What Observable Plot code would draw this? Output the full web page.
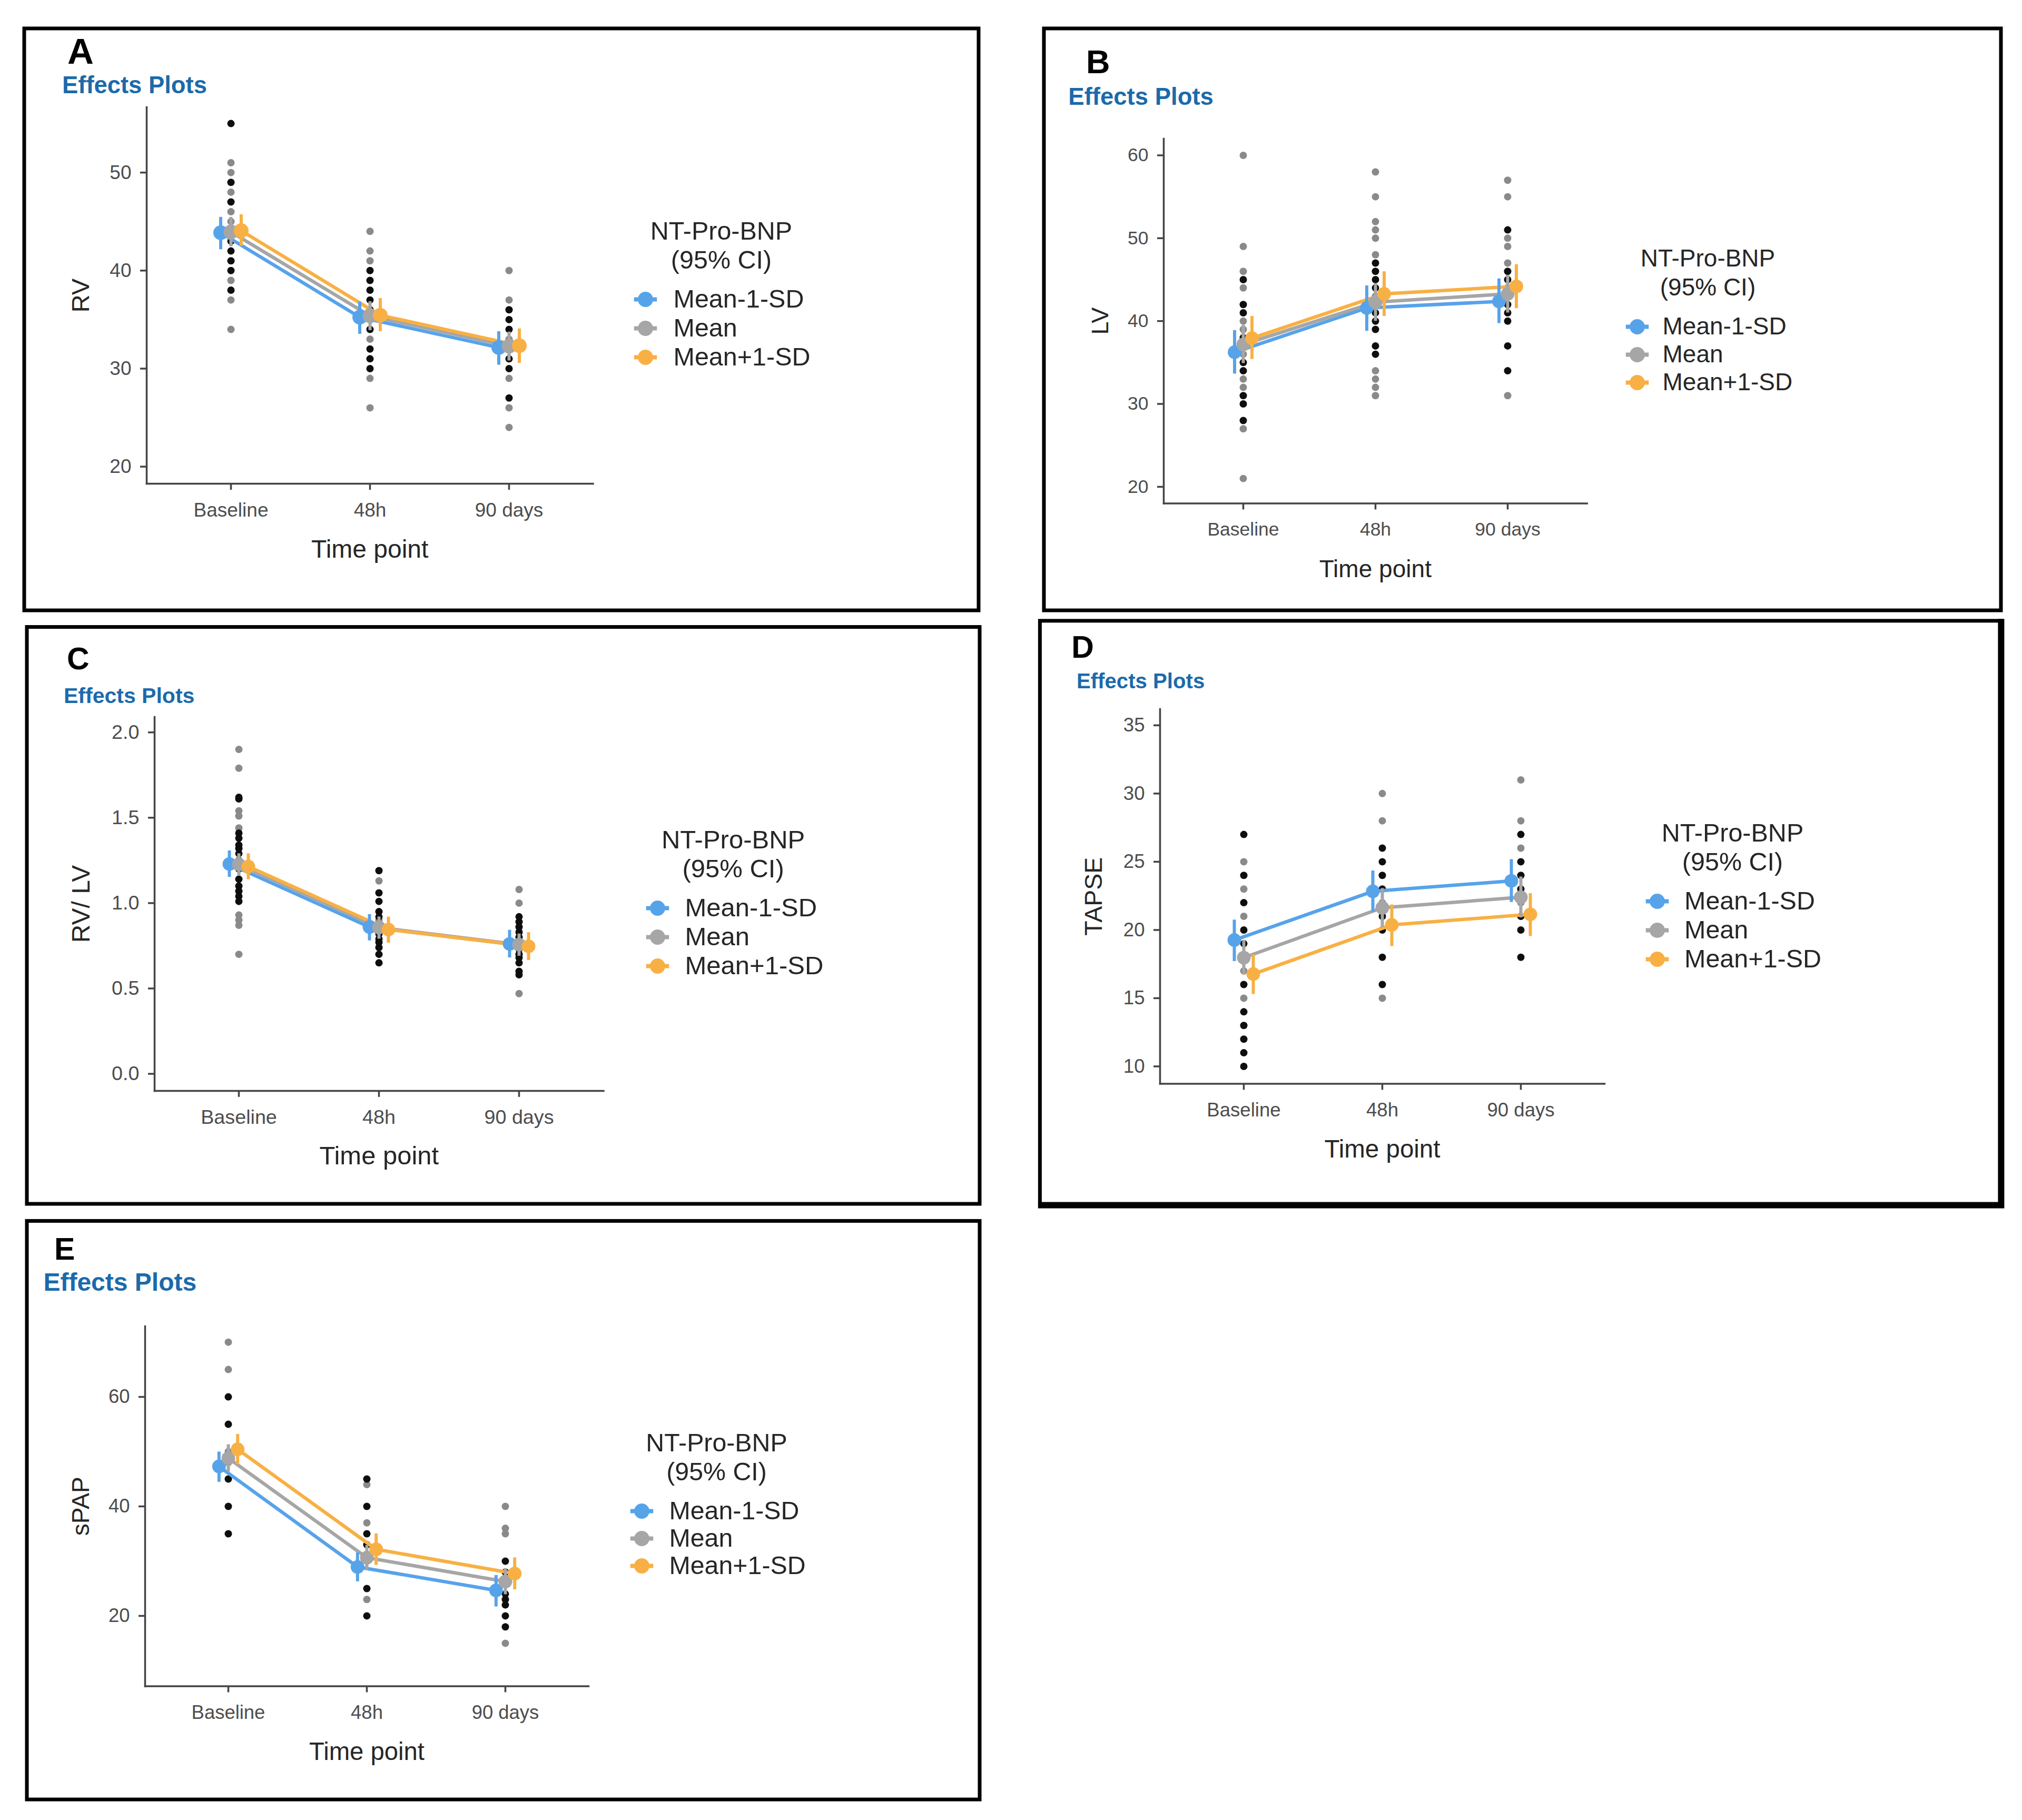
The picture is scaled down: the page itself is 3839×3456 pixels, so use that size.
<!DOCTYPE html>
<html><head><meta charset="utf-8">
<script src="https://cdn.jsdelivr.net/npm/d3@7"></script>
<script src="https://cdn.jsdelivr.net/npm/@observablehq/plot@0.6"></script>
<style>
html,body{margin:0;padding:0;background:#fff;}
#page{position:relative;width:3839px;height:3456px;background:#fff;overflow:hidden;font-family:"Liberation Sans",Arial,sans-serif;}
#page > svg{position:absolute;}
</style></head><body><div id="page"></div>
<script>
// ---------- shared categories ----------
const timePoints = ["Baseline", "48h", "90 days"];
const groups = ["Mean-1-SD", "Mean", "Mean+1-SD"];
const groupColors = ["#57a3ea", "#a6a6a6", "#f8b044"];
const legendTitle = "NT-Pro-BNP\n(95% CI)";
const xTitle = "Time point";

// ---------- A: RV ----------
const rvLight = [[51,50,48,46,45,44,39,37,34],[44,42,41,33,29,26],[40,37,33,29,26,24]];
const rvDark  = [[55,49,47,43,42,41,40,38],[40,39,38,37,36,35,34,32,31,30],[36,35,34,32,31,30,27]];
const rvFit   = [[43.86,35.25,32.15],[43.94,35.38,32.29],[44.07,35.44,32.34]];
const rvLower = [[42.15,33.52,30.37],[42.45,33.90,30.80],[42.51,33.79,30.56]];
const rvUpper = [[45.45,36.81,33.79],[45.45,36.85,33.75],[45.72,37.17,34.07]];
const rvTicks = [20,30,40,50];

// ---------- B: LV ----------
const lvLight = [[60,49,46,44,40,39,37,36,33,32,27,21],[58,55,52,51,50,48,43,34,33,32,31],[57,55,50,49,47,43,31]];
const lvDark  = [[45,42,41,38,35,34,31,30,28],[47,46,45,44,42,41,40,39,37,36],[51,46,45,44,42,41,40,37,34]];
const lvFit   = [[36.24,41.58,42.37],[37.18,42.28,43.28],[37.94,43.28,44.19]];
const lvLower = [[33.63,38.79,39.73],[34.90,40.00,41.00],[35.39,40.58,41.52]];
const lvUpper = [[38.88,44.27,45.12],[39.50,44.55,45.55],[40.58,45.97,46.83]];
const lvTicks = [20,30,40,50,60];

// ---------- C: RV/LV ----------
const ratioLight = [[1.90,1.79,1.54,1.51,1.44,0.93,0.90,0.87,0.70],[1.13,0.90],[1.08,1.00,0.47]];
const ratioDark  = [[1.62,1.61,1.41,1.38,1.34,1.32,1.29,1.25,1.20,1.14,1.10,1.07,1.04,1.01],[1.19,1.06,1.01,0.95,0.92,0.82,0.79,0.77,0.74,0.70,0.65],[0.92,0.89,0.86,0.83,0.80,0.73,0.70,0.68,0.65,0.60,0.58]];
const ratioFit   = [[1.229,0.860,0.761],[1.226,0.857,0.757],[1.214,0.845,0.747]];
const ratioLower = [[1.152,0.780,0.680],[1.160,0.790,0.690],[1.138,0.766,0.665]];
const ratioUpper = [[1.307,0.934,0.842],[1.290,0.920,0.820],[1.290,0.919,0.828]];
const ratioTicks = [0,0.5,1,1.5,2];

// ---------- D: TAPSE ----------
const tapseLight = [[25,23,21,17,15],[30,28,22,15],[31,28,26,22]];
const tapseDark  = [[27,24,22,20,19,18,16,14,13,12,11,10],[26,25,24,23,21,20,18,16],[27,25,24,23,21,20,18]];
const tapseFit   = [[19.26,22.83,23.60],[17.97,21.63,22.40],[16.77,20.37,21.15]];
const tapseLower = [[17.70,21.29,22.03],[16.70,20.20,20.90],[15.29,18.80,19.54]];
const tapseUpper = [[20.74,24.34,25.17],[19.25,23.05,23.90],[18.19,21.85,22.68]];
const tapseTicks = [10,15,20,25,30,35];

// ---------- E: sPAP ----------
const spapLight = [[70,65,50,48],[44,37,30,23],[40,36,35,26,15]];
const spapDark  = [[60,55,45,40,35],[45,40,35,33,25,20],[30,28,24,23,22,20,18]];
const spapFit   = [[47.30,28.94,24.66],[48.81,30.64,26.27],[50.43,32.16,27.74]];
const spapLower = [[44.44,26.27,21.67],[46.30,28.40,23.90],[47.67,29.26,24.80]];
const spapUpper = [[49.97,31.56,27.42],[51.30,32.90,28.60],[53.19,35.02,30.64]];
const spapTicks = [20,40,60];

// ---------- layout (page pixels) ----------
const panels = [
  {letter:"A", yTitle:"RV", light:rvLight, dark:rvDark, fit:rvFit, lower:rvLower, upper:rvUpper, ticks:rvTicks, fmt:d3.format("d"),
   yDomain:[18.26,56.67], frame:{l:277.5,r:1125,t:203.2,b:918.2}, yTitleOff:124.5, dodge:19.5, meanR:14, s:1.0,
   box:[46,54,1858,1159], heavy:false, letterPos:[128,121,69], effPos:[118,177,45.4],
   legend:{x:1225, y:568.3, gap:55.4, fs:48.5, titleOff:144, labelOff:53}},
  {letter:"B", yTitle:"LV", light:lvLight, dark:lvDark, fit:lvFit, lower:lvLower, upper:lvUpper, ticks:lvTicks, fmt:d3.format("d"),
   yDomain:[18,62], frame:{l:2209.3,r:3013,t:263.4,b:955.8}, yTitleOff:120, dodge:16.5, meanR:13, s:0.96,
   box:[1982,54,3799,1159], heavy:false, letterPos:[2062,139.2,63], effPos:[2028.3,199.4,45.5],
   legend:{x:3108, y:618.6, gap:53.9, fs:46, titleOff:134, labelOff:48}},
  {letter:"C", yTitle:"RV/ LV", light:ratioLight, dark:ratioDark, fit:ratioFit, lower:ratioLower, upper:ratioUpper, ticks:ratioTicks, fmt:d3.format(".1f"),
   yDomain:[-0.0996,2.09], frame:{l:292.5,r:1145,t:1360.7,b:2070.6}, yTitleOff:138.7, dodge:18, meanR:13, s:1.02,
   box:[51,1190.5,1860,2286], heavy:false, letterPos:[127,1271.2,59], effPos:[121,1335,41],
   legend:{x:1248, y:1723.7, gap:55, fs:49, titleOff:143.6, labelOff:52}},
  {letter:"D", yTitle:"TAPSE", light:tapseLight, dark:tapseDark, fit:tapseFit, lower:tapseLower, upper:tapseUpper, ticks:tapseTicks, fmt:d3.format("d"),
   yDomain:[8.73,36.19], frame:{l:2202,r:3046,t:1346,b:2057.4}, yTitleOff:125.5, dodge:18, meanR:13, s:0.99,
   box:[1974.4,1178.8,3799.4,2288.4], heavy:true, letterPos:[2034.3,1249.2,59], effPos:[2043.9,1307.1,40.2],
   legend:{x:3146.3, y:1710.5, gap:55, fs:48.5, titleOff:143, labelOff:51.5}},
  {letter:"E", yTitle:"sPAP", light:spapLight, dark:spapDark, fit:spapFit, lower:spapLower, upper:spapUpper, ticks:spapTicks, fmt:d3.format("d"),
   yDomain:[7.16,72.9], frame:{l:275,r:1117,t:2517.5,b:3200.9}, yTitleOff:121.8, dodge:17.7, meanR:13, s:0.985,
   box:[51,2318.4,1860,3417], heavy:false, letterPos:[103,2392.2,59], effPos:[82.4,2451.1,48],
   legend:{x:1217.8, y:2869.1, gap:52, fs:48.3, titleOff:142, labelOff:52}}
];

const page = document.getElementById("page");
const FONT = "Liberation Sans, Arial, Helvetica, sans-serif";
const baseStyle = {fontFamily: FONT, background: "transparent", maxWidth: "none", overflow: "visible"};
const axisColor = "#444444";
const tickTextColor = "#4d4d4d";
const titleColor = "#262626";
const dodgeSign = [-1, 0, 1];

// legend key: point with a horizontal line through it
const keySymbol = {
  draw(ctx, size) {
    const r = Math.sqrt(size / Math.PI);
    ctx.moveTo(r, 0);
    ctx.arc(0, 0, r, 0, 2 * Math.PI);
    const hw = 1.5 * r, hh = 0.28 * r;
    ctx.moveTo(-hw, -hh); ctx.lineTo(hw, -hh); ctx.lineTo(hw, hh); ctx.lineTo(-hw, hh); ctx.closePath();
  }
};

function place(el, left, top, z) {
  el.style.position = "absolute";
  el.style.left = left + "px";
  el.style.top = top + "px";
  el.style.zIndex = z;
  page.appendChild(el);
}

function drawPanel(p) {
  const mL = 220, mR = 20, mT = 20, mB = 180;
  const w = p.frame.r - p.frame.l + mL + mR;
  const h = p.frame.b - p.frame.t + mT + mB;
  const raw = [];
  timePoints.forEach((t, i) => {
    p.light[i].forEach(v => raw.push({time: t, value: v, dark: false}));
    p.dark[i].forEach(v => raw.push({time: t, value: v, dark: true}));
  });
  const fits = groups.map((g, gi) => timePoints.map((t, i) => ({
    group: g, time: t, fit: p.fit[gi][i], lo: p.lower[gi][i], hi: p.upper[gi][i]
  })));
  const s = p.s;
  const marks = [
    Plot.axisY({ticks: p.ticks, tickFormat: p.fmt, tickSize: 12, tickPadding: 17, fontSize: 37 * s,
      stroke: axisColor, strokeWidth: 3.5, fill: tickTextColor, label: null}),
    Plot.axisX({tickSize: 12, tickPadding: 24, fontSize: 37 * s,
      stroke: axisColor, strokeWidth: 3.5, fill: tickTextColor, label: null}),
    Plot.frame({anchor: "left", stroke: axisColor, strokeWidth: 3.5}),
    Plot.frame({anchor: "bottom", stroke: axisColor, strokeWidth: 3.5}),
    Plot.dot(raw.filter(d => !d.dark), {x: "time", y: "value", r: 7, fill: "#8a8a8a"}),
    Plot.dot(raw.filter(d => d.dark), {x: "time", y: "value", r: 7, fill: "#0e0e0e"}),
    ...groups.map((g, gi) => Plot.line(fits[gi], {x: "time", y: "fit", stroke: groupColors[gi], strokeWidth: 6.5, dx: dodgeSign[gi] * p.dodge})),
    ...groups.map((g, gi) => Plot.ruleX(fits[gi], {x: "time", y1: "lo", y2: "hi", stroke: groupColors[gi], strokeWidth: 6, dx: dodgeSign[gi] * p.dodge})),
    ...groups.map((g, gi) => Plot.dot(fits[gi], {x: "time", y: "fit", r: p.meanR, fill: groupColors[gi], dx: dodgeSign[gi] * p.dodge})),
    Plot.text([xTitle], {frameAnchor: "bottom", dy: 140, lineAnchor: "bottom", textAnchor: "middle", fontSize: 48 * s, fill: titleColor}),
    Plot.text([p.yTitle], {frameAnchor: "left", dx: -p.yTitleOff, rotate: -90, lineAnchor: "middle", textAnchor: "middle", fontSize: 47 * s, fill: titleColor})
  ];
  const svg = Plot.plot({
    width: w, height: h, marginLeft: mL, marginRight: mR, marginTop: mT, marginBottom: mB,
    style: baseStyle,
    x: {type: "point", domain: timePoints, padding: 0.6, axis: null},
    y: {domain: p.yDomain, axis: null},
    marks
  });
  place(svg, p.frame.l - mL, p.frame.t - mT, 1);

  // legend
  const L = p.legend, lm = 150, lpadL = 40;
  const leg = Plot.plot({
    width: 600, height: lm + 2 * L.gap + 40, marginTop: lm, marginBottom: 40, marginLeft: 0, marginRight: 0,
    style: baseStyle,
    y: {type: "point", domain: groups, padding: 0, axis: null},
    color: {domain: groups, range: groupColors},
    marks: [
      Plot.text([legendTitle], {frameAnchor: "top-left", dx: lpadL + L.titleOff, dy: -58.5, textAnchor: "middle",
        lineAnchor: "bottom", lineHeight: 55 / L.fs, fontSize: L.fs, fill: titleColor}),
      Plot.dot(groups, {y: d => d, frameAnchor: "left", dx: lpadL, r: 14.5, fill: d => d, symbol: keySymbol}),
      Plot.text(groups, {y: d => d, text: d => d, frameAnchor: "left", dx: lpadL + L.labelOff, textAnchor: "start",
        lineAnchor: "middle", fontSize: L.fs, fill: titleColor})
    ]
  });
  place(leg, L.x - lpadL, L.y - lm, 1);
}

panels.forEach(drawPanel);

// overlay: panel borders, panel letters, "Effects Plots" headers
const overlay = d3.select(page).append("svg")
  .attr("width", 3839).attr("height", 3456)
  .style("position", "absolute").style("left", "0px").style("top", "0px").style("z-index", 2)
  .style("pointer-events", "none");
panels.forEach(p => {
  const [x1, y1, x2, y2] = p.box;
  overlay.append("rect").attr("x", x1).attr("y", y1).attr("width", x2 - x1).attr("height", y2 - y1)
    .attr("fill", "none").attr("stroke", "#000").attr("stroke-width", 7);
  if (p.heavy) {
    overlay.append("path")
      .attr("d", `M${x1 - 3.5},${y2} L${x2},${y2} L${x2},${y1 - 3.5}`)
      .attr("fill", "none").attr("stroke", "#000").attr("stroke-width", 12);
  }
  overlay.append("text").attr("x", p.letterPos[0]).attr("y", p.letterPos[1])
    .attr("font-family", FONT).attr("font-weight", "bold").attr("font-size", p.letterPos[2]).attr("fill", "#000")
    .text(p.letter);
  overlay.append("text").attr("x", p.effPos[0]).attr("y", p.effPos[1])
    .attr("font-family", FONT).attr("font-weight", "bold").attr("font-size", p.effPos[2]).attr("fill", "#1b6aab")
    .text("Effects Plots");
});
</script></body></html>
